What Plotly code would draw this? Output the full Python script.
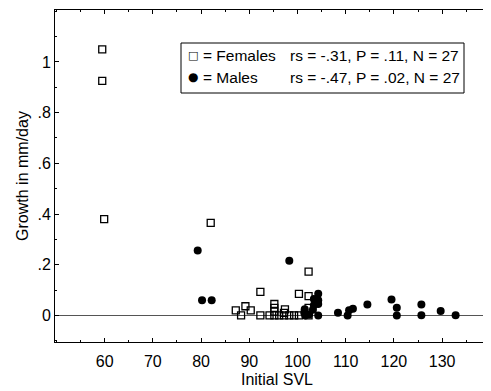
import plotly.graph_objects as go

# Females (open squares)
fem_svl = [59.5, 59.5, 59.9, 82.0, 102.3, 92.3, 100.3, 102.3, 87.2, 89.2, 90.3,
           95.2, 95.2, 95.2, 97.4, 88.3, 92.3, 94.2, 95.2, 96.2, 97.2, 98.3,
           99.3, 102.3, 97.2, 100.3, 102.3]
fem_growth = [1.05, 0.925, 0.38, 0.365, 0.173, 0.093, 0.085, 0.076, 0.02, 0.036, 0.02,
              0.045, 0.03, 0.015, 0.024, 0.0, 0.0, 0.0, 0.0, 0.0, 0.0, 0.0,
              0.0, 0.0, 0.01, 0.0, 0.03]

# Males (filled circles)
male_svl = [79.3, 98.3, 80.2, 82.2, 104.3, 103.4, 104.3, 101.5, 103.2, 104.3, 102.4,
            101.4, 103.4, 104.3, 101.6, 108.4, 110.4, 110.7, 111.5, 114.5, 119.5,
            120.6, 120.6, 125.7, 125.7, 129.7, 132.8]
male_growth = [0.256, 0.216, 0.06, 0.06, 0.085, 0.065, 0.045, 0.024, 0.022, 0.0, 0.004,
               0.01, 0.04, 0.06, 0.0, 0.01, 0.0, 0.02, 0.026, 0.043, 0.063,
               0.03, 0.0, 0.043, 0.001, 0.017, 0.001]

x_ticks = [60, 70, 80, 90, 100, 110, 120, 130]
y_ticks = [0, 0.2, 0.4, 0.6, 0.8, 1.0]
y_ticktext = ["0", ".2", ".4", ".6", ".8", "1"]

legend_labels = ["= Females", "= Males"]
legend_stats = ["rs = -.31, P = .11, N = 27", "rs = -.47, P = .02, N = 27"]
legend_glyphs = ["\u25a1", "\u25cf"]

FONT = "Liberation Sans, Arial, Helvetica, sans-serif"

fig = go.Figure()
fig.add_trace(go.Scatter(
    x=fem_svl, y=fem_growth, mode="markers", name="Females",
    marker=dict(symbol="square-open", size=7, color="black", line=dict(width=1.3, color="black")),
))
fig.add_trace(go.Scatter(
    x=male_svl, y=male_growth, mode="markers", name="Males",
    marker=dict(symbol="circle", size=8, color="black", line=dict(width=0)),
))

# legend box (paper coordinates of the plot area)
L, W, T, H = 47, 444, 2, 332
def px(xp):
    return (xp - L) / W
def py(yp):
    return 1 - (yp - T) / H

fig.add_shape(type="rect", xref="paper", yref="paper",
              x0=px(173), x1=px(456), y0=py(85), y1=py(35),
              line=dict(color="black", width=1), fillcolor="white", layer="above")

row_y = [48, 69]
glyph_sizes = [11, 12]
for i in range(2):
    fig.add_annotation(xref="paper", yref="paper", x=px(185), y=py(row_y[i]),
                       text=legend_glyphs[i], showarrow=False, xanchor="center", yanchor="middle",
                       font=dict(family="DejaVu Sans", size=glyph_sizes[i], color="black"))
    fig.add_annotation(xref="paper", yref="paper", x=px(193), y=py(row_y[i]),
                       text=legend_labels[i], showarrow=False, xanchor="left", yanchor="middle",
                       font=dict(family=FONT, size=15.5, color="black"))
    fig.add_annotation(xref="paper", yref="paper", x=px(280), y=py(row_y[i]),
                       text=legend_stats[i], showarrow=False, xanchor="left", yanchor="middle",
                       font=dict(family=FONT, size=15.5, color="black"))

fig.update_layout(
    width=491, height=391,
    margin=dict(l=L, r=0, t=T, b=391 - T - H),
    paper_bgcolor="white", plot_bgcolor="white",
    font=dict(family=FONT, size=16, color="black"),
    showlegend=False,
    xaxis=dict(
        range=[49.7, 141.8], tickvals=x_ticks,
        showline=True, linecolor="black", linewidth=1, mirror="ticks",
        ticks="inside", ticklen=4, tickcolor="black", tickwidth=1,
        minor=dict(dtick=5, tick0=0, ticks="inside", ticklen=2, tickcolor="black"),
        showgrid=False, zeroline=False, ticklabelstandoff=5,
        title=dict(text="Initial SVL", font=dict(size=16), standoff=4),
        tickfont=dict(size=16),
    ),
    yaxis=dict(
        range=[-0.105, 1.205], tickvals=y_ticks, ticktext=y_ticktext,
        showline=True, linecolor="black", linewidth=1, mirror=False,
        ticks="inside", ticklen=4, tickcolor="black", tickwidth=1,
        minor=dict(dtick=0.1, tick0=0, ticks="inside", ticklen=2, tickcolor="black"),
        showgrid=False,
        zeroline=True, zerolinecolor="#555555", zerolinewidth=1,
        title=dict(text="Growth in mm/day", font=dict(size=16), standoff=4),
        tickfont=dict(size=16),
    ),
)

fig.write_html("out.html")
